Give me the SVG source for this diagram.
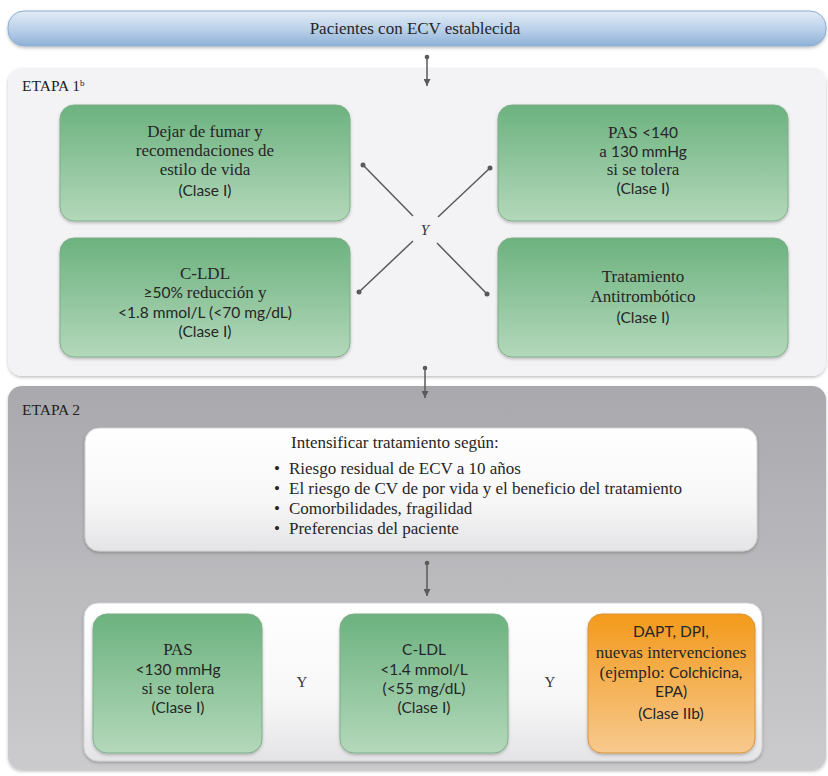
<svg xmlns="http://www.w3.org/2000/svg" width="828" height="776" viewBox="0 0 828 776">
<defs>
<style>
.serif{font-family:"Liberation Serif","DejaVu Serif",serif;font-size:17px;}
.sans{font-family:Lato,"Liberation Sans",sans-serif;font-size:15.5px;}
.t{fill:#262626;text-anchor:middle;}
.lbl{font-family:"Liberation Serif","DejaVu Serif",serif;font-size:15.5px;fill:#222;}
.y{font-family:"Liberation Serif","DejaVu Serif",serif;font-style:italic;font-size:15px;fill:#333;text-anchor:middle;}
.yr{font-family:"Liberation Serif","DejaVu Serif",serif;font-size:15px;fill:#333;text-anchor:middle;}
.conn{stroke:#5a5a5a;stroke-width:1.5;fill:none;}
.dot{fill:#5a5a5a;}
.green{fill:url(#gGreen);stroke:#7fae8a;stroke-width:1;}
.orange{fill:url(#gOrange);stroke:#d9953a;stroke-width:1;}
</style>
<linearGradient id="gBlue" x1="0" y1="0" x2="0" y2="1">
<stop offset="0" stop-color="#e2ecf6"/><stop offset="0.5" stop-color="#bcd2ea"/><stop offset="1" stop-color="#8eb1d7"/>
</linearGradient>
<linearGradient id="gGreen" x1="0" y1="0" x2="0" y2="1">
<stop offset="0" stop-color="#6cb27f"/><stop offset="1" stop-color="#b3d8ba"/>
</linearGradient>
<linearGradient id="gOrange" x1="0" y1="0" x2="0" y2="1">
<stop offset="0" stop-color="#f39a1b"/><stop offset="1" stop-color="#f7c98e"/>
</linearGradient>
<linearGradient id="gPanel2" x1="0" y1="0" x2="0" y2="1">
<stop offset="0" stop-color="#a9a9ad"/><stop offset="1" stop-color="#cbcbce"/>
</linearGradient>
<linearGradient id="gWhite" x1="0" y1="0" x2="0" y2="1">
<stop offset="0" stop-color="#ffffff"/><stop offset="0.6" stop-color="#f7f7f8"/><stop offset="1" stop-color="#e4e4e6"/>
</linearGradient>
<filter id="sh" x="-5%" y="-10%" width="110%" height="130%">
<feDropShadow dx="0" dy="1.5" stdDeviation="1.5" flood-color="#000" flood-opacity="0.25"/>
</filter>
<marker id="ah" viewBox="0 0 10 10" refX="10" refY="5" markerWidth="7" markerHeight="7" orient="auto" markerUnits="userSpaceOnUse">
<path d="M0,0 L10,5 L0,10 Z" fill="#5a5a5a"/>
</marker>
</defs>

<!-- Panels -->
<g id="panel1">
<rect x="8" y="68" width="818" height="308" rx="14" fill="#f3f3f5" filter="url(#sh)"/>
<text class="lbl" x="22" y="91">ETAPA 1<tspan font-size="9" dy="-5">b</tspan></text>
</g>
<g id="panel2">
<rect x="8" y="386" width="818" height="384" rx="14" fill="url(#gPanel2)" filter="url(#sh)"/>
<text class="lbl" x="22" y="415">ETAPA 2</text>
</g>

<g id="top">
<rect x="8" y="11" width="818" height="35" rx="16" fill="url(#gBlue)" stroke="#8eaed2" stroke-width="1" filter="url(#sh)"/>
<text class="serif t" x="415" y="34">Pacientes con ECV establecida</text>
</g>

<g id="n1">
<rect class="green" x="60" y="105" width="290" height="116" rx="14" filter="url(#sh)"/>
<text class="serif t" x="205" y="137">Dejar de fumar y</text>
<text class="serif t" x="205" y="156">recomendaciones de</text>
<text class="serif t" x="205" y="175">estilo de vida</text>
<text class="sans t" x="205" y="196">(Clase I)</text>
</g>
<g id="n2">
<rect class="green" x="498" y="105" width="290" height="116" rx="14" filter="url(#sh)"/>
<text class="t" x="643" y="138"><tspan class="serif" font-size="15">PAS </tspan><tspan class="sans">&lt;140</tspan></text>
<text class="t" x="643" y="157"><tspan class="serif">a </tspan><tspan class="sans">130 mmHg</tspan></text>
<text class="serif t" x="643" y="175">si se tolera</text>
<text class="sans t" x="643" y="194">(Clase I)</text>
</g>
<g id="n3">
<rect class="green" x="60" y="238" width="290" height="119" rx="14" filter="url(#sh)"/>
<text class="serif t" x="205" y="279" font-size="15">C-LDL</text>
<text class="t" x="205" y="298"><tspan class="sans">≥50% </tspan><tspan class="serif">reducción y</tspan></text>
<text class="sans t" x="205" y="318">&lt;1.8 mmol/L (&lt;70 mg/dL)</text>
<text class="sans t" x="205" y="337">(Clase I)</text>
</g>
<g id="n4">
<rect class="green" x="498" y="238" width="290" height="119" rx="14" filter="url(#sh)"/>
<text class="serif t" x="643" y="282">Tratamiento</text>
<text class="serif t" x="643" y="302">Antitrombótico</text>
<text class="sans t" x="643" y="323">(Clase I)</text>
</g>

<g id="n5">
<rect x="85" y="428" width="672" height="123" rx="14" fill="url(#gWhite)" stroke="#d0d0d4" stroke-width="1" filter="url(#sh)"/>
<text class="serif" fill="#262626" x="291" y="448">Intensificar tratamiento según:</text>
<g class="serif" fill="#262626">
<text x="274" y="474">•</text><text x="289" y="474">Riesgo residual de ECV a 10 años</text>
<text x="274" y="494">•</text><text x="289" y="494">El riesgo de CV de por vida y el beneficio del tratamiento</text>
<text x="274" y="514">•</text><text x="289" y="514">Comorbilidades, fragilidad</text>
<text x="274" y="534">•</text><text x="289" y="534">Preferencias del paciente</text>
</g>
</g>

<g id="container">
<rect x="84" y="603" width="678" height="158" rx="14" fill="url(#gWhite)" stroke="#d0d0d4" stroke-width="1" filter="url(#sh)"/>
</g>
<g id="n6">
<rect class="green" x="93" y="614" width="169" height="139" rx="14" filter="url(#sh)"/>
<text class="serif t" x="178" y="655" font-size="15">PAS</text>
<text class="sans t" x="178" y="675">&lt;130 mmHg</text>
<text class="serif t" x="178" y="694">si se tolera</text>
<text class="sans t" x="178" y="713">(Clase I)</text>
</g>
<g id="n7">
<rect class="green" x="340" y="614" width="168" height="139" rx="14" filter="url(#sh)"/>
<text class="sans t" x="424" y="655">C-LDL</text>
<text class="sans t" x="424" y="675">&lt;1.4 mmol/L</text>
<text class="sans t" x="424" y="694">(&lt;55 mg/dL)</text>
<text class="sans t" x="424" y="713">(Clase I)</text>
</g>
<g id="n8">
<rect class="orange" x="588" y="614" width="167" height="139" rx="14" filter="url(#sh)"/>
<text class="sans t" x="671" y="637">DAPT, DPI,</text>
<text class="serif t" x="671" y="658">nuevas intervenciones</text>
<text class="t" x="671" y="678"><tspan class="serif">(ejemplo: </tspan><tspan class="sans">Colchicina,</tspan></text>
<text class="sans t" x="671" y="697">EPA)</text>
<text class="sans t" x="671" y="719">(Clase IIb)</text>
</g>

<g id="connectors">
<line class="conn" x1="427" y1="57" x2="427" y2="86" marker-end="url(#ah)"/>
<circle class="dot" cx="427" cy="57" r="2.3"/>
<line class="conn" x1="425" y1="368" x2="425" y2="398" marker-end="url(#ah)"/>
<circle class="dot" cx="425" cy="368" r="2.3"/>
<line class="conn" x1="427" y1="563" x2="427" y2="596" marker-end="url(#ah)"/>
<circle class="dot" cx="427" cy="563" r="2.3"/>

<line class="conn" x1="363" y1="165" x2="413" y2="216"/>
<circle class="dot" cx="363" cy="165" r="2.5"/>
<line class="conn" x1="438" y1="217" x2="490" y2="168"/>
<circle class="dot" cx="490" cy="168" r="2.5"/>
<line class="conn" x1="413" y1="241" x2="359" y2="292"/>
<circle class="dot" cx="359" cy="292" r="2.5"/>
<line class="conn" x1="437" y1="243" x2="487" y2="294"/>
<circle class="dot" cx="487" cy="294" r="2.5"/>
<text class="y" x="425" y="235">Y</text>
<text class="yr" x="302" y="687">Y</text>
<text class="yr" x="550" y="687">Y</text>
</g>
</svg>
